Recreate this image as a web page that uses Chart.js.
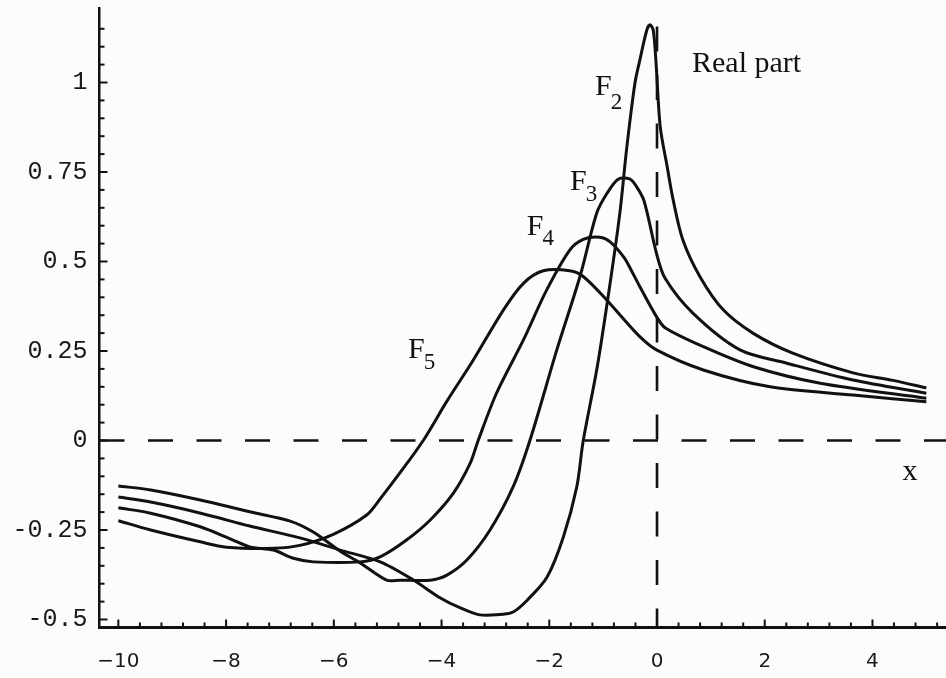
<!DOCTYPE html>
<html><head><meta charset="utf-8">
<script src="https://cdn.jsdelivr.net/npm/chart.js@4.4.1/dist/chart.umd.min.js"></script>
<style>html,body{margin:0;padding:0;background:#fcfcfc;}canvas{display:block;}</style>
</head><body>
<canvas id="c" width="946" height="678"></canvas>
<script>
// ---- data ----
const xF2 = [-10.0,-9.40,-8.47,-7.56,-6.63,-5.88,-5.14,-4.53,-4.03,-3.66,-3.29,-2.86,-2.67,-2.41,-2.04,-1.74,-1.49,-1.37,-1.11,-0.87,-0.69,-0.56,-0.41,-0.32,-0.19,-0.13,-0.07,-0.02,0.06,0.19,0.30,0.48,0.80,1.23,1.78,2.52,3.64,4.38,5.0];
const yF2 = [-0.158,-0.172,-0.203,-0.239,-0.272,-0.306,-0.339,-0.389,-0.439,-0.467,-0.487,-0.485,-0.479,-0.446,-0.381,-0.270,-0.130,-0.001,0.205,0.440,0.635,0.820,0.998,1.062,1.146,1.161,1.146,1.06,0.876,0.764,0.672,0.560,0.457,0.365,0.300,0.244,0.189,0.168,0.147];
const xF3 = [-10.0,-9.40,-8.48,-7.56,-6.81,-6.39,-5.88,-5.51,-5.02,-4.77,-4.21,-3.90,-3.53,-3.10,-2.67,-2.36,-1.86,-1.43,-1.12,-0.93,-0.72,-0.50,-0.38,-0.24,-0.01,0.15,0.67,1.54,2.41,3.64,5.0];
const yF3 = [-0.127,-0.138,-0.166,-0.199,-0.225,-0.255,-0.309,-0.342,-0.390,-0.390,-0.390,-0.376,-0.334,-0.250,-0.129,0.0,0.253,0.458,0.635,0.690,0.730,0.730,0.709,0.669,0.523,0.453,0.355,0.253,0.216,0.169,0.132];
const xF4 = [-10.0,-9.40,-8.48,-7.87,-7.56,-7.12,-6.75,-6.38,-5.51,-5.14,-4.65,-4.21,-3.78,-3.47,-3.32,-2.98,-2.48,-2.05,-1.62,-1.37,-1.06,-0.87,-0.62,-0.50,-0.32,-0.01,0.15,0.86,1.79,3.03,5.0];
const yF4 = [-0.188,-0.203,-0.241,-0.278,-0.297,-0.306,-0.329,-0.339,-0.339,-0.325,-0.278,-0.222,-0.147,-0.064,0.0,0.132,0.281,0.420,0.532,0.562,0.568,0.555,0.513,0.482,0.430,0.346,0.315,0.262,0.206,0.160,0.118];
const xF5 = [-10.0,-9.40,-8.48,-7.99,-7.12,-6.63,-6.01,-5.39,-5.14,-4.77,-4.34,-3.90,-3.41,-2.85,-2.48,-2.11,-1.62,-1.37,-0.93,-0.69,-0.32,-0.01,0.86,2.10,3.64,5.0];
const yF5 = [-0.224,-0.250,-0.283,-0.298,-0.301,-0.293,-0.262,-0.208,-0.163,-0.090,0.0,0.110,0.225,0.365,0.439,0.474,0.474,0.458,0.392,0.351,0.290,0.253,0.197,0.150,0.127,0.108];

const seriesNames = ['F2','F3','F4','F5'];
const xTickValues = [-10,-8,-6,-4,-2,0,2,4];
const yTickValues = [-0.5,-0.25,0,0.25,0.5,0.75,1];
const xMinorStep = 0.4;
const yMinorStep = 0.05;

// labels placed in data coordinates
const curveLabels = [
  {main:'F', sub:'2', x:-1.151, y:0.965, dy:14},
  {main:'F', sub:'3', x:-1.615, y:0.700, dy:11},
  {main:'F', sub:'4', x:-2.419, y:0.574, dy:10},
  {main:'F', sub:'5', x:-4.622, y:0.230, dy:11}
];
const titleText = {text:'Real part', x:0.650, y:1.029};
const axisText = {text:'x', x:4.697, y:-0.110};

// ---- build ----
const toPts = (xs, ys) => xs.map((v,i)=>({x:v, y:ys[i]}));
const allX = [xF2,xF3,xF4,xF5], allY=[yF2,yF3,yF4,yF5];
const datasets = seriesNames.map((n,i)=>({
  label:n, data:toPts(allX[i],allY[i]), showLine:true,
  borderColor:'#111', borderWidth:3, pointRadius:0,
  tension:0.3, fill:false
}));

const overlay = {
  id:'overlay',
  beforeDatasetsDraw(chart){
    const {ctx, chartArea:a, scales:{x,y}} = chart;
    ctx.save();
    ctx.strokeStyle='#111'; ctx.lineWidth=2.6; ctx.lineCap='butt';
    ctx.setLineDash([25,23.5]);
    const y0=y.getPixelForValue(0);
    ctx.beginPath(); ctx.moveTo(a.left,y0); ctx.lineTo(a.right,y0); ctx.stroke();
    const x0=x.getPixelForValue(0);
    ctx.lineDashOffset=30;
    ctx.beginPath(); ctx.moveTo(x0,a.top); ctx.lineTo(x0,a.bottom); ctx.stroke();
    ctx.restore();
  },
  afterDraw(chart){
    const {ctx, chartArea:a, scales:{x,y}} = chart;
    ctx.save();
    ctx.strokeStyle='#111'; ctx.lineWidth=2;
    for(let i=Math.ceil(y.min/yMinorStep); i*yMinorStep<=y.max-0.03; i++){
      const py=y.getPixelForValue(i*yMinorStep);
      const len = (i%5===0)?8:5;
      ctx.beginPath(); ctx.moveTo(a.left,py); ctx.lineTo(a.left+len,py); ctx.stroke();
    }
    for(let i=Math.ceil(x.min/xMinorStep); i*xMinorStep<=x.max; i++){
      const px=x.getPixelForValue(i*xMinorStep);
      const len = (i%5===0)?8:5;
      ctx.beginPath(); ctx.moveTo(px,a.bottom); ctx.lineTo(px,a.bottom-len); ctx.stroke();
    }
    ctx.fillStyle='#111';
    ctx.textBaseline='alphabetic';
    ctx.textAlign='left';
    curveLabels.forEach(l=>{
      const px=x.getPixelForValue(l.x), py=y.getPixelForValue(l.y);
      ctx.font='30px "Liberation Serif", serif';
      ctx.fillText(l.main, px, py);
      const w=ctx.measureText(l.main).width;
      ctx.font='23px "Liberation Serif", serif';
      ctx.fillText(l.sub, px+w-1, py+l.dy);
    });
    ctx.font='30px "Liberation Serif", serif';
    ctx.fillText(titleText.text, x.getPixelForValue(titleText.x), y.getPixelForValue(titleText.y));
    ctx.textAlign='center';
    ctx.fillText(axisText.text, x.getPixelForValue(axisText.x), y.getPixelForValue(axisText.y));
    ctx.restore();
  }
};

new Chart(document.getElementById('c'), {
  type:'scatter',
  data:{datasets},
  options:{
    responsive:false, animation:false, devicePixelRatio:1,
    layout:{padding:{top:8,right:0,left:0,bottom:0}},
    plugins:{legend:{display:false}, tooltip:{enabled:false}},
    scales:{
      x:{
        type:'linear', position:'bottom', min:-10.35, max:5.365,
        afterBuildTicks:s=>{ s.ticks = xTickValues.map(v=>({value:v})); },
        afterFit:s=>{ s.height=50.5; s.paddingLeft=0; s.paddingRight=0; },
        grid:{display:false, drawTicks:false},
        border:{display:true, color:'#111', width:3},
        ticks:{ padding:22, color:'#1a1a1a', maxRotation:0, autoSkip:false,
          font:{family:'"DejaVu Sans", sans-serif', size:20},
          callback:v=> v<0 ? '\u2212'+Math.abs(v) : String(v) }
      },
      y:{
        type:'linear', position:'left', min:-0.5223, max:1.2081,
        afterBuildTicks:s=>{ s.ticks = yTickValues.map(v=>({value:v})); },
        afterFit:s=>{ s.width=99.5; s.paddingTop=0; s.paddingBottom=0; },
        grid:{display:false, drawTicks:false},
        border:{display:true, color:'#111', width:2.5},
        ticks:{ padding:12, color:'#1a1a1a', autoSkip:false,
          font:{family:'"Liberation Mono", monospace', size:25},
          callback:v=> String(v) }
      }
    }
  },
  plugins:[overlay]
});
</script>
</body></html>
